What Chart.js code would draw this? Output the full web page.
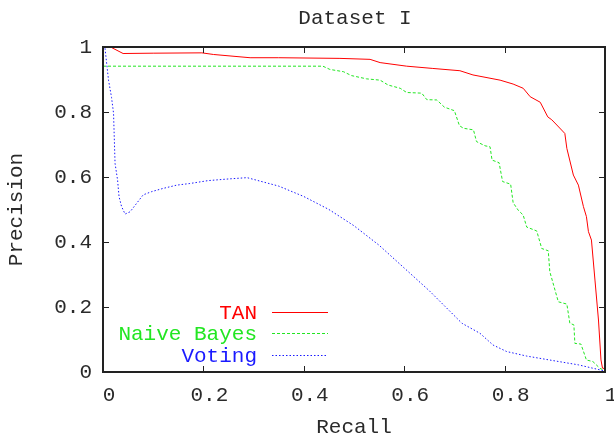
<!DOCTYPE html>
<html>
<head>
<meta charset="utf-8">
<script src="https://cdn.jsdelivr.net/npm/chart.js@4/dist/chart.umd.min.js"></script>
<style>
  html, body { margin: 0; padding: 0; background: #fff; }
  #wrap { width: 614px; height: 436px; }
</style>
</head>
<body>
<div id="wrap"><canvas id="pr"></canvas></div>
<script>
// Precision / recall curves
const tanRecall    = [0, 0.015, 0.04, 0.1, 0.197, 0.22, 0.293, 0.35, 0.472, 0.532, 0.552, 0.605, 0.657, 0.711, 0.737, 0.791, 0.817, 0.837, 0.851, 0.871, 0.886, 0.894, 0.904, 0.920, 0.924, 0.937, 0.947, 0.957, 0.963, 0.967, 0.973, 0.980, 0.987, 0.992, 0.995, 1.0];
const tanPrecision = [1, 1, 0.98, 0.981, 0.982, 0.977, 0.967, 0.967, 0.965, 0.962, 0.952, 0.941, 0.934, 0.927, 0.914, 0.898, 0.886, 0.873, 0.847, 0.830, 0.785, 0.776, 0.76, 0.734, 0.688, 0.606, 0.575, 0.509, 0.478, 0.432, 0.406, 0.283, 0.16, 0.037, 0.012, 0.01];

const nbRecall    = [0, 0.438, 0.452, 0.479, 0.495, 0.525, 0.552, 0.568, 0.592, 0.605, 0.635, 0.645, 0.665, 0.680, 0.700, 0.710, 0.718, 0.738, 0.744, 0.761, 0.771, 0.775, 0.789, 0.796, 0.812, 0.817, 0.827, 0.837, 0.844, 0.864, 0.874, 0.887, 0.890, 0.907, 0.924, 0.930, 0.938, 0.940, 0.952, 0.963, 0.976, 0.990, 1.0];
const nbPrecision = [0.941, 0.941, 0.931, 0.924, 0.912, 0.902, 0.898, 0.883, 0.873, 0.860, 0.858, 0.838, 0.837, 0.815, 0.804, 0.758, 0.750, 0.745, 0.709, 0.696, 0.693, 0.652, 0.644, 0.586, 0.578, 0.521, 0.498, 0.483, 0.446, 0.434, 0.380, 0.373, 0.309, 0.216, 0.209, 0.150, 0.145, 0.088, 0.086, 0.037, 0.032, 0.011, 0.005];

const voteRecall    = [0.004, 0.011, 0.017, 0.021, 0.024, 0.029, 0.032, 0.037, 0.044, 0.054, 0.067, 0.080, 0.097, 0.120, 0.147, 0.173, 0.210, 0.25, 0.287, 0.35, 0.40, 0.45, 0.50, 0.55, 0.60, 0.65, 0.715, 0.751, 0.777, 0.804, 0.844, 0.897, 0.947, 0.997];
const votePrecision = [0.996, 0.898, 0.845, 0.796, 0.642, 0.591, 0.539, 0.509, 0.486, 0.493, 0.519, 0.545, 0.555, 0.565, 0.575, 0.580, 0.589, 0.594, 0.598, 0.572, 0.540, 0.50, 0.45, 0.39, 0.32, 0.25, 0.15, 0.119, 0.083, 0.063, 0.049, 0.035, 0.022, 0.004];

const seriesNames = ['TAN', 'Naive Bayes', 'Voting'];
const tickValues = [0, 0.2, 0.4, 0.6, 0.8, 1];
const chartTitle = 'Dataset I';

const FONT = { family: '"Liberation Mono", "DejaVu Sans Mono", monospace', size: 21 };
const INK = '#2a2a2a';
const FRAME = '#222222';

const pts = (xs, ys) => xs.map((x, i) => ({ x, y: ys[i] }));
const fixTicks = s => { s.ticks = tickValues.map(v => ({ value: v })); };

// frame, inward ticks (all four sides), title and key, gnuplot style
const gnuplotDecor = {
  id: 'gnuplotDecor',
  afterDraw(chart) {
    const { ctx, chartArea: a, scales } = chart;
    const L = Math.round(a.left), R = Math.round(a.right), T = Math.round(a.top), B = Math.round(a.bottom);
    ctx.save();
    ctx.globalAlpha = 1;
    ctx.globalCompositeOperation = 'source-over';
    ctx.fillStyle = FRAME;
    // box edges
    ctx.fillRect(L - 1, T - 1, R - L + 2, 2);
    ctx.fillRect(L - 1, B - 1, R - L + 2, 2);
    ctx.fillRect(L - 1, T - 1, 2, B - T + 2);
    ctx.fillRect(R - 1, T - 1, 2, B - T + 2);
    // tick marks
    tickValues.forEach(v => {
      const px = Math.round(scales.x.getPixelForValue(v));
      ctx.fillRect(px, B - 6, 1, 6);
      ctx.fillRect(px, T, 1, 6);
      const py = Math.round(scales.y.getPixelForValue(v));
      ctx.fillRect(L, py, 6, 1);
      ctx.fillRect(R - 6, py, 6, 1);
    });

    ctx.font = `${FONT.size}px ${FONT.family}`;
    ctx.textBaseline = 'middle';
    ctx.fillStyle = INK;
    ctx.textAlign = 'center';
    ctx.fillText(chartTitle, (L + R) / 2 + 1, 18);

    ctx.textAlign = 'right';
    chart.data.datasets.forEach((ds, i) => {
      const y = Math.round(312 + i * 21.3) + 0.5;
      ctx.fillStyle = ds.borderColor;
      ctx.fillText(ds.label, 257, y + 1);
      ctx.strokeStyle = ds.borderColor;
      ctx.lineWidth = 1;
      ctx.setLineDash(ds.borderDash || []);
      ctx.beginPath();
      ctx.moveTo(272, y);
      ctx.lineTo(328, y);
      ctx.stroke();
    });
    ctx.restore();
  }
};

new Chart(document.getElementById('pr'), {
  type: 'line',
  data: {
    datasets: [
      { label: seriesNames[0], data: pts(tanRecall, tanPrecision), borderColor: '#ff0000', borderWidth: 1 },
      { label: seriesNames[1], data: pts(nbRecall, nbPrecision), borderColor: '#22e622', borderWidth: 1, borderDash: [3, 2] },
      { label: seriesNames[2], data: pts(voteRecall, votePrecision), borderColor: '#1a1aff', borderWidth: 1, borderDash: [1.5, 2] }
    ]
  },
  options: {
    responsive: true,
    maintainAspectRatio: false,
    animation: false,
    parsing: false,
    elements: { point: { radius: 0 }, line: { tension: 0 } },
    layout: { padding: { top: 47, right: 9, bottom: 0, left: 0 } },
    plugins: {
      legend: { display: false },
      tooltip: { enabled: false },
      title: { display: false }
    },
    scales: {
      x: {
        type: 'linear', position: 'bottom',
        min: 0, max: 1,
        afterBuildTicks: fixTicks,
        afterFit: s => { s.height = 64; s.paddingLeft = 0; s.paddingRight = 0; },
        grid: { display: false, drawTicks: false },
        border: { display: true, color: FRAME, width: 2 },
        ticks: { color: INK, font: FONT, padding: 11, labelOffset: 6, maxRotation: 0, autoSkip: false, callback: v => String(v) },
        title: { display: true, text: 'Recall', color: INK, font: FONT, padding: { top: 0, bottom: -4 } }
      },
      y: {
        type: 'linear', position: 'left',
        min: 0, max: 1,
        afterBuildTicks: fixTicks,
        afterFit: s => { s.width = 103; s.paddingTop = 0; s.paddingBottom = 0; },
        grid: { display: false, drawTicks: false },
        border: { display: true, color: FRAME, width: 2 },
        ticks: { color: INK, font: FONT, padding: 11, autoSkip: false, callback: v => String(v) },
        title: { display: true, text: 'Precision', color: INK, font: FONT, padding: { top: 4, bottom: 0 } }
      }
    }
  },
  plugins: [gnuplotDecor]
});
</script>
</body>
</html>
